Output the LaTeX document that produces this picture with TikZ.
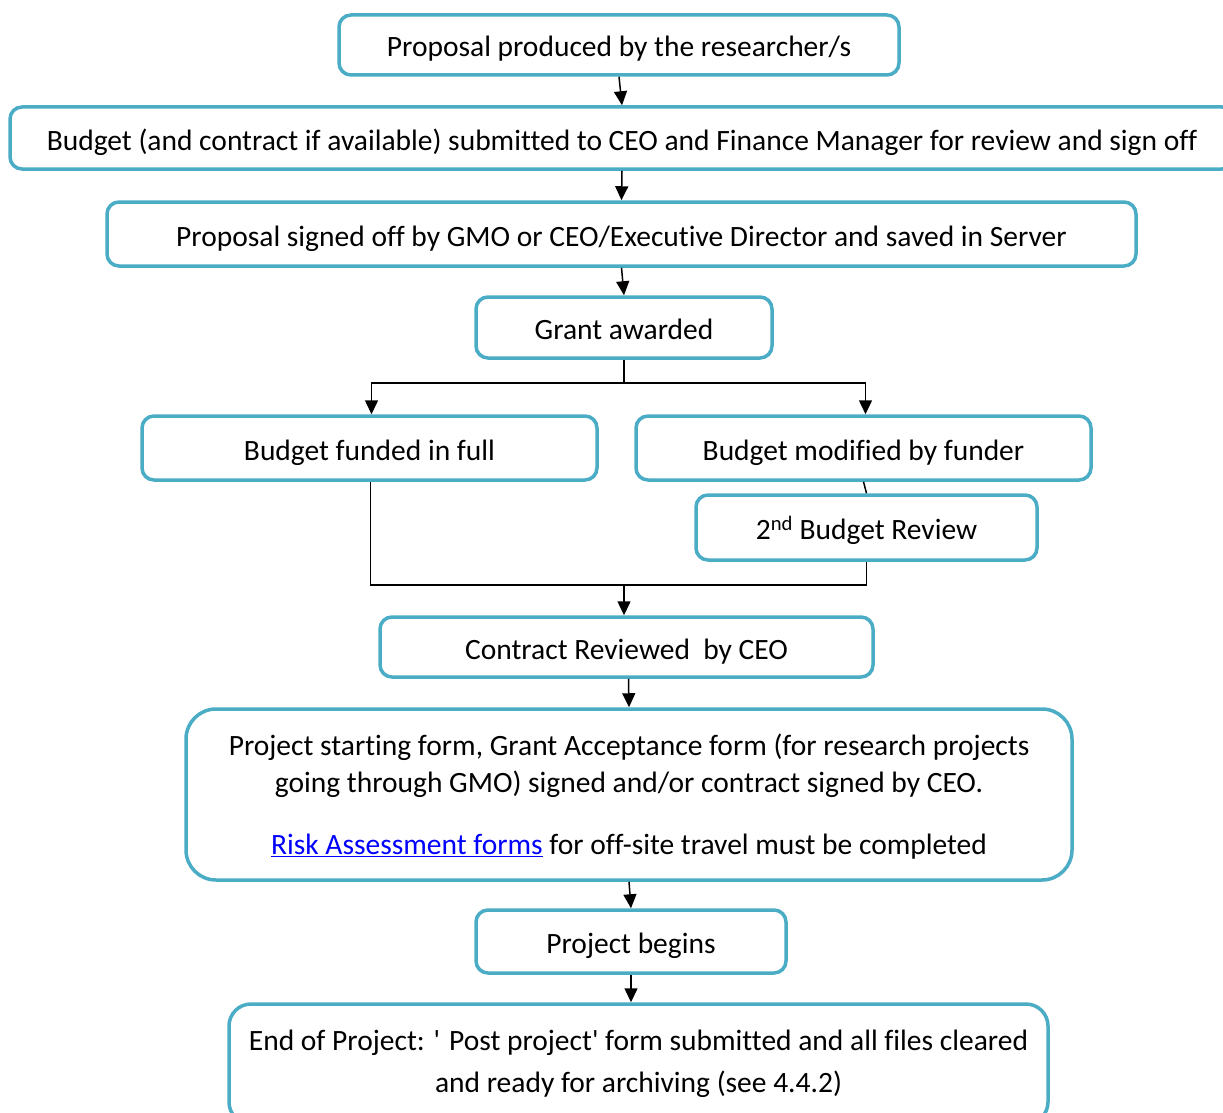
\documentclass[tikz,border=0pt]{standalone}
\usepackage{fontspec}
\setmainfont{Carlito}[Ligatures={NoCommon,TeXOff}]
\usetikzlibrary{arrows.meta}
\definecolor{boxteal}{RGB}{75,172,198}
\definecolor{linkblue}{RGB}{0,0,255}
\tikzset{
  flowbox/.style={draw=boxteal, line width=3.5pt, rounded corners=12pt, fill=white,
    align=center, inner sep=0pt, font=\fontsize{29.5}{37}\selectfont},
  oneline/.style={flowbox, text height=25pt, text depth=1pt},
  conn/.style={line width=1.5pt, draw=black},
  arr/.style={conn, -{Triangle[width=13pt,length=14pt]}}
}
\begin{document}
\begin{tikzpicture}[x=1pt,y=-1pt]
\useasboundingbox (0,0) rectangle (1223,1113);
\clip (0,0) rectangle (1223,1113);
\node[oneline, minimum width=560pt, minimum height=60pt] (p) at (619,45) {Proposal produced by the researcher/s};
\node[oneline, minimum width=1224pt, minimum height=62pt] (b) at (622,138) {Budget (and contract if available) submitted to CEO and Finance Manager for review and sign off};
\node[oneline, minimum width=1029pt, minimum height=64pt] (s) at (621.5,234) {Proposal signed off by GMO or CEO/Executive Director and saved in Server};
\node[oneline, minimum width=296pt, minimum height=61pt] (g) at (624,327.5) {Grant awarded};
\node[oneline, minimum width=455pt, minimum height=64pt] (f) at (369.5,448) {Budget funded in full};
\node[oneline, minimum width=455pt, minimum height=64pt] (m) at (863.5,448) {Budget modified by funder};
\node[oneline, minimum width=341pt, minimum height=65pt] (r) at (866.5,527.5) {2\textsuperscript{nd} Budget Review};
\node[oneline, minimum width=493pt, minimum height=60pt] (c) at (626.5,647) {Contract Reviewed\ \ by CEO};
\node[flowbox, rounded corners=30pt, text depth=0pt, minimum width=886pt, minimum height=171pt] (a) at (629,794.5)
  {Project starting form, Grant Acceptance form (for research projects\\
   going through GMO) signed and/or contract signed by CEO.\\[25pt]
   {\color{linkblue}\underline{Risk Assessment forms}} for off-site travel must be completed};
\node[flowbox, rounded corners=22pt, minimum width=819pt, minimum height=120pt, font=\fontsize{29.5}{42}\selectfont] (e) at (638.5,1064)
  {End of Project: ' Post project' form submitted and all files cleared\\
   and ready for archiving (see 4.4.2)};
\node[oneline, minimum width=310pt, minimum height=63pt] (pb) at (631,941.5) {Project begins};
\coordinate (split) at (624,383);
\coordinate (join) at (624,585);
\draw[arr] (p.south) -- (b.north);
\draw[arr] (b.south) -- (s.north);
\draw[arr] (s.south) -- (g.north);
\draw[conn] (g.south) -- (split);
\draw[arr] (split) -| ([xshift=2pt]f.north);
\draw[arr] (split) -| ([xshift=2pt]m.north);
\draw[conn] (m.south) -- (r.north);
\draw[conn] ([xshift=1pt]f.south) |- (join);
\draw[conn] (r.south) |- (join);
\draw[arr] (join) -- (join |- c.north);
\draw[arr] ([xshift=2pt]c.south) -- (a.north);
\draw[arr] (a.south) -- (pb.north);
\draw[arr] (pb.south) -- (pb.south |- e.north);
\end{tikzpicture}
\end{document}
